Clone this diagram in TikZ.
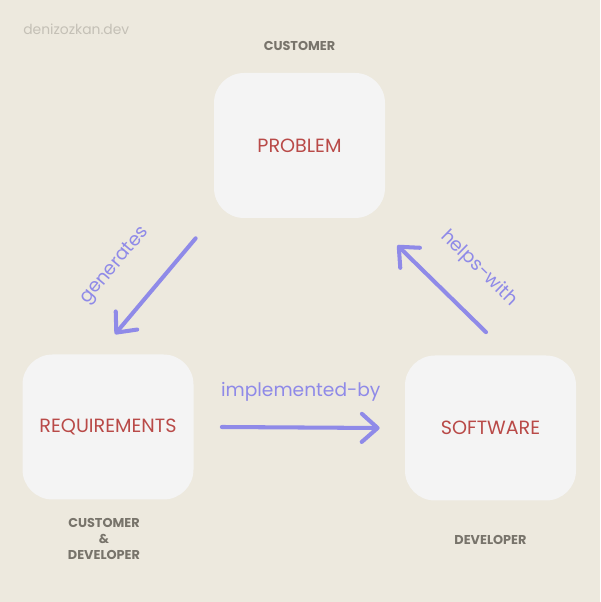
\documentclass[tikz,border=0pt]{standalone}
\usepackage{fontspec}
\setmainfont{Poppins}
\usetikzlibrary{arrows.meta,positioning}
\definecolor{bgcream}{HTML}{EDE9DE}
\definecolor{cardgray}{HTML}{F4F4F4}
\definecolor{probred}{HTML}{B94A48}
\definecolor{flowblue}{HTML}{8F8AE8}
\definecolor{rolegray}{HTML}{78746B}
\definecolor{markgray}{HTML}{C4C0B6}
\begin{document}
\begin{tikzpicture}[
        card/.style={fill=cardgray, rounded corners=0.6cm, minimum width=3.42cm,
            minimum height=2.9cm, text=probred, font=\fontsize{10.9}{13}\selectfont},
        role/.style={text=rolegray, font=\bfseries\fontsize{7.3}{9}\selectfont, align=center},
        flow/.style={draw=flowblue, line width=2.3pt, line cap=round,
            -{Straight Barb[length=9pt,width=16pt,round]}},
        verb/.style={text=flowblue, font=\fontsize{10.6}{13}\selectfont}
    ]
        \fill 
            [bgcream] (0,0) rectangle (12,12.04);
        \useasboundingbox 
            (0,0) rectangle (12,12.04);
        \node 
            [anchor=west, inner sep=0pt, text=markgray, font=\fontsize{7.9}{9}\selectfont] (mark) at (0.46,11.46) {denizozkan.dev};
        % the three cards
        \node 
            [card] (problem) at (5.99,9.13) {PROBLEM};
        \node 
            [card] (req) at (2.16,3.5) {REQUIREMENTS};
        \node 
            [card] (soft) at (9.81,3.48) {SOFTWARE};
        % who owns what
        \node 
            [role, above=0.54cm of problem.north, anchor=center] (custlbl) {CUSTOMER};
        \node 
            [role, below=0.78cm of req.south, anchor=center, xshift=-0.08cm] (bothlbl) {CUSTOMER\\\&\\DEVELOPER};
        \node 
            [role, below=0.78cm of soft.south, anchor=center] (devlbl) {DEVELOPER};
        % arrows
        \draw 
            [flow] ([shift={(-0.36,-0.4)}]problem.south west) -- ([shift={(0.14,0.4)}]req.north)
            node[verb, pos=0.58, sloped, above=0.54cm] (genlbl) {generates};
        \draw 
            [flow] ([shift={(0.56,0)}]req.east) -- ([shift={(-0.5,0)}]soft.west)
            node[verb, midway, above=0.37cm] (implbl) {implemented-by};
        \draw 
            [flow] ([shift={(-0.09,0.46)}]soft.north) -- ([shift={(0.24,-0.54)}]problem.south east)
            node[verb, pos=0.4, sloped, above=0.46cm] (helplbl) {helps-with};
    \end{tikzpicture}
\end{document}
